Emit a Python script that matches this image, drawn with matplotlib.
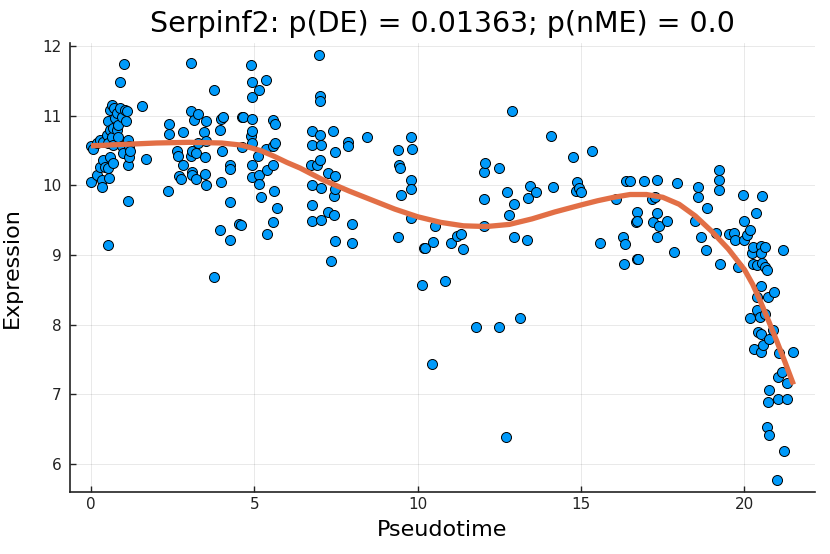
import matplotlib
matplotlib.use("Agg")
import matplotlib.pyplot as plt

# scatter points
pseudotime = [
    0.0, 0.0, 0.07, 0.17, 0.17, 0.28, 0.28, 0.33, 0.33, 0.38, 0.38, 0.43, 0.48,
    0.52, 0.53, 0.53, 0.53, 0.56, 0.58, 0.58, 0.58, 0.63, 0.65, 0.68, 0.68, 0.68,
    0.71, 0.73, 0.79, 0.79, 0.84, 0.84, 0.89, 0.90, 0.94, 0.94, 0.99, 1.02, 1.04,
    1.07, 1.10, 1.12, 1.14, 1.14, 1.16, 1.17, 1.19, 1.56, 1.68,
    2.37, 2.40, 2.40, 2.64, 2.66, 2.70, 2.76, 2.82, 2.83, 3.05, 3.05, 3.05,
    3.08, 3.10, 3.10, 3.16, 3.20, 3.21, 3.27, 3.28, 3.46, 3.48, 3.49, 3.51,
    3.51, 3.53, 3.75, 3.75, 3.94, 3.96, 3.97, 3.98, 4.01, 4.03, 4.24, 4.24,
    4.25, 4.26, 4.53, 4.59, 4.62, 4.62, 4.64,
    4.90, 4.91, 4.92, 4.92, 4.93, 4.93, 4.94, 4.94, 4.94, 5.12, 5.14, 5.14,
    5.14, 5.19, 5.36, 5.37, 5.38, 5.38, 5.56, 5.58, 5.58, 5.58, 5.61, 5.63,
    5.63, 5.68, 6.72, 6.76, 6.76, 6.76, 6.76, 6.76, 6.93, 6.98, 7.01, 7.01,
    7.01, 7.02, 7.03, 7.03, 7.03, 7.26, 7.26, 7.34, 7.41, 7.45, 7.45, 7.46,
    7.46, 7.47, 7.47, 7.88, 7.88, 7.99, 7.99, 8.44,
    9.41, 9.41, 9.44, 9.46, 9.48, 9.79, 9.79, 9.79, 9.79, 9.81, 10.13, 10.20,
    10.21, 10.45, 10.46, 10.53, 10.84, 11.03, 11.19, 11.31, 11.38, 11.78,
    12.03, 12.03, 12.03, 12.06, 12.48, 12.48, 12.70, 12.72, 12.78, 12.88,
    12.94, 12.95, 13.12, 13.33, 13.37, 13.44, 13.63, 14.07, 14.15, 14.76,
    14.85, 14.87, 14.95, 14.99, 15.33, 15.59, 16.07, 16.29, 16.31, 16.33,
    16.38, 16.50, 16.68, 16.70, 16.70, 16.70, 16.75, 16.93, 17.16, 17.21,
    17.26, 17.32, 17.32, 17.33, 17.37, 17.64, 17.85, 17.93, 18.49, 18.57,
    18.57, 18.66, 18.83, 18.85, 19.13, 19.21, 19.21, 19.21, 19.26, 19.54,
    19.68, 19.71, 19.81, 19.95, 19.99, 20.00, 20.07, 20.17, 20.17, 20.22,
    20.26, 20.27, 20.29, 20.36, 20.38, 20.38, 20.38, 20.41, 20.46, 20.50,
    20.50, 20.50, 20.50, 20.50, 20.53, 20.54, 20.56, 20.63, 20.63, 20.63,
    20.68, 20.70, 20.71, 20.72, 20.76, 20.76, 20.76, 20.87, 20.89, 21.00,
    21.04, 21.04, 21.07, 21.14, 21.17, 21.21, 21.31, 21.31, 21.47,
]
expression = [
    10.05, 10.57, 10.53, 10.61, 10.15, 10.65, 10.27, 10.08, 9.98, 10.63, 10.37, 10.27, 10.73,
    9.14, 10.92, 10.61, 10.25, 10.11, 11.08, 10.80, 10.41, 10.70, 11.16, 10.82, 10.58, 10.32,
    11.11, 10.97, 11.04, 10.80, 10.87, 10.70, 11.11, 11.49, 10.99, 10.56, 10.46, 11.74, 11.08,
    10.92, 11.07, 9.77, 10.65, 10.29, 10.56, 10.41, 10.49, 11.14, 10.38,
    9.92, 10.89, 10.74, 10.50, 10.42, 10.14, 10.09, 10.30, 10.77, 11.76, 11.07, 10.42,
    10.49, 10.19, 10.15, 10.94, 10.09, 10.47, 11.02, 10.61, 10.77, 10.16, 10.41, 10.93,
    10.64, 10.01, 11.37, 8.69, 10.80, 9.36, 10.05, 10.95, 10.50, 10.98, 10.30, 9.76,
    10.23, 9.21, 9.44, 9.43, 10.98, 10.55, 10.98,
    10.71, 11.73, 10.95, 10.12, 11.48, 11.27, 10.78, 10.61, 10.30, 10.42, 11.37, 10.15,
    10.02, 9.84, 10.53, 11.51, 10.22, 9.30, 10.94, 10.56, 10.29, 9.47, 9.92, 10.88,
    10.61, 9.67, 10.30, 10.78, 10.58, 10.01, 9.72, 9.49, 10.30, 11.87, 10.72, 10.37,
    11.29, 11.22, 10.58, 9.96, 9.50, 10.18, 9.62, 8.91, 10.78, 9.85, 9.58, 10.48,
    10.14, 9.95, 9.20, 10.63, 10.57, 9.18, 9.44, 10.70,
    10.51, 9.26, 10.29, 10.25, 9.87, 10.70, 10.08, 9.95, 9.53, 10.52, 8.57, 9.10,
    9.10, 7.43, 9.19, 9.42, 8.63, 9.17, 9.28, 9.30, 9.09, 7.96,
    10.20, 9.81, 9.42, 10.32, 10.25, 7.97, 6.38, 9.90, 9.57, 11.07,
    9.74, 9.26, 8.10, 9.21, 9.82, 9.99, 9.91, 10.71, 9.98, 10.41,
    9.92, 10.05, 9.96, 9.91, 10.50, 9.18, 9.81, 9.26, 8.87, 9.16,
    10.07, 10.06, 9.48, 9.62, 9.49, 8.94, 8.95, 10.06, 9.80, 9.48,
    9.83, 9.61, 9.26, 10.08, 9.42, 9.49, 9.05, 10.04, 9.49, 9.98,
    9.84, 9.26, 9.07, 9.67, 9.31, 10.22, 10.08, 9.94, 8.87, 9.30,
    9.31, 9.22, 8.83, 9.86, 9.22, 9.49, 9.29, 9.36, 8.09, 9.03,
    8.87, 9.12, 7.65, 9.61, 8.86, 8.40, 8.21, 7.89, 8.11, 9.13,
    9.03, 8.56, 7.87, 7.60, 8.88, 9.85, 7.71, 9.11, 8.83, 8.16,
    8.79, 6.53, 6.89, 8.40, 7.06, 7.79, 6.42, 7.93, 8.47, 5.77,
    7.25, 6.93, 7.59, 7.32, 9.07, 6.19, 7.16, 6.93, 7.61,
]

# fitted smooth curve
fit_x = [0, 1, 2, 3, 4, 4.6, 5.2, 5.6, 6.0, 6.4, 7.1, 7.9, 8.6, 9.3, 10.0,
         10.7, 11.4, 12.1, 12.8, 13.5, 14.2, 15.0, 15.5, 16.0, 16.5, 17.0,
         17.5, 18.0, 18.5, 19.0, 19.5, 20.0, 20.25, 20.5, 20.75, 21.0,
         21.25, 21.5]
fit_y = [10.57, 10.59, 10.61, 10.62, 10.61, 10.58, 10.50, 10.42, 10.33,
         10.25, 10.08, 9.92, 9.79, 9.66, 9.55, 9.47, 9.42, 9.41, 9.44, 9.52,
         9.62, 9.72, 9.78, 9.83, 9.87, 9.87, 9.83, 9.73, 9.56, 9.34, 9.09,
         8.79, 8.58, 8.32, 8.04, 7.75, 7.45, 7.14]

fig = plt.figure(figsize=(8.3, 5.54), dpi=100)
ax = fig.add_axes([0.0843, 0.112, 0.8977, 0.8095])

ax.scatter(pseudotime, expression, s=52, color='#009AFA', edgecolors='black',
           linewidths=0.7, zorder=3)
ax.plot(fit_x, fit_y, color='#E26F46', linewidth=3.8, zorder=4,
        solid_capstyle='butt', solid_joinstyle='round')

ax.set_xlim(-0.643, 22.16)
ax.set_ylim(5.596, 12.04)
ax.set_xticks([0, 5, 10, 15, 20])
ax.set_yticks([6, 7, 8, 9, 10, 11, 12])

ax.grid(True, color='black', alpha=0.1, linewidth=0.6)
ax.set_axisbelow(True)
for side in ['top', 'right']:
    ax.spines[side].set_visible(False)
for side in ['left', 'bottom']:
    ax.spines[side].set_linewidth(1.2)
    ax.spines[side].set_color('#222222')
ax.tick_params(direction='in', length=4, width=1, labelsize=11, colors='#222222')
ax.tick_params(axis='y', pad=6)

ax.set_xlabel('Pseudotime', fontsize=16, labelpad=6)
ax.set_ylabel('Expression', fontsize=16)
ax.yaxis.set_label_coords(-0.064, 0.5)
ax.set_title('Serpinf2: p(DE) = 0.01363; p(nME) = 0.0', fontsize=20.5, pad=8)

fig.savefig('out.png', dpi=100)
